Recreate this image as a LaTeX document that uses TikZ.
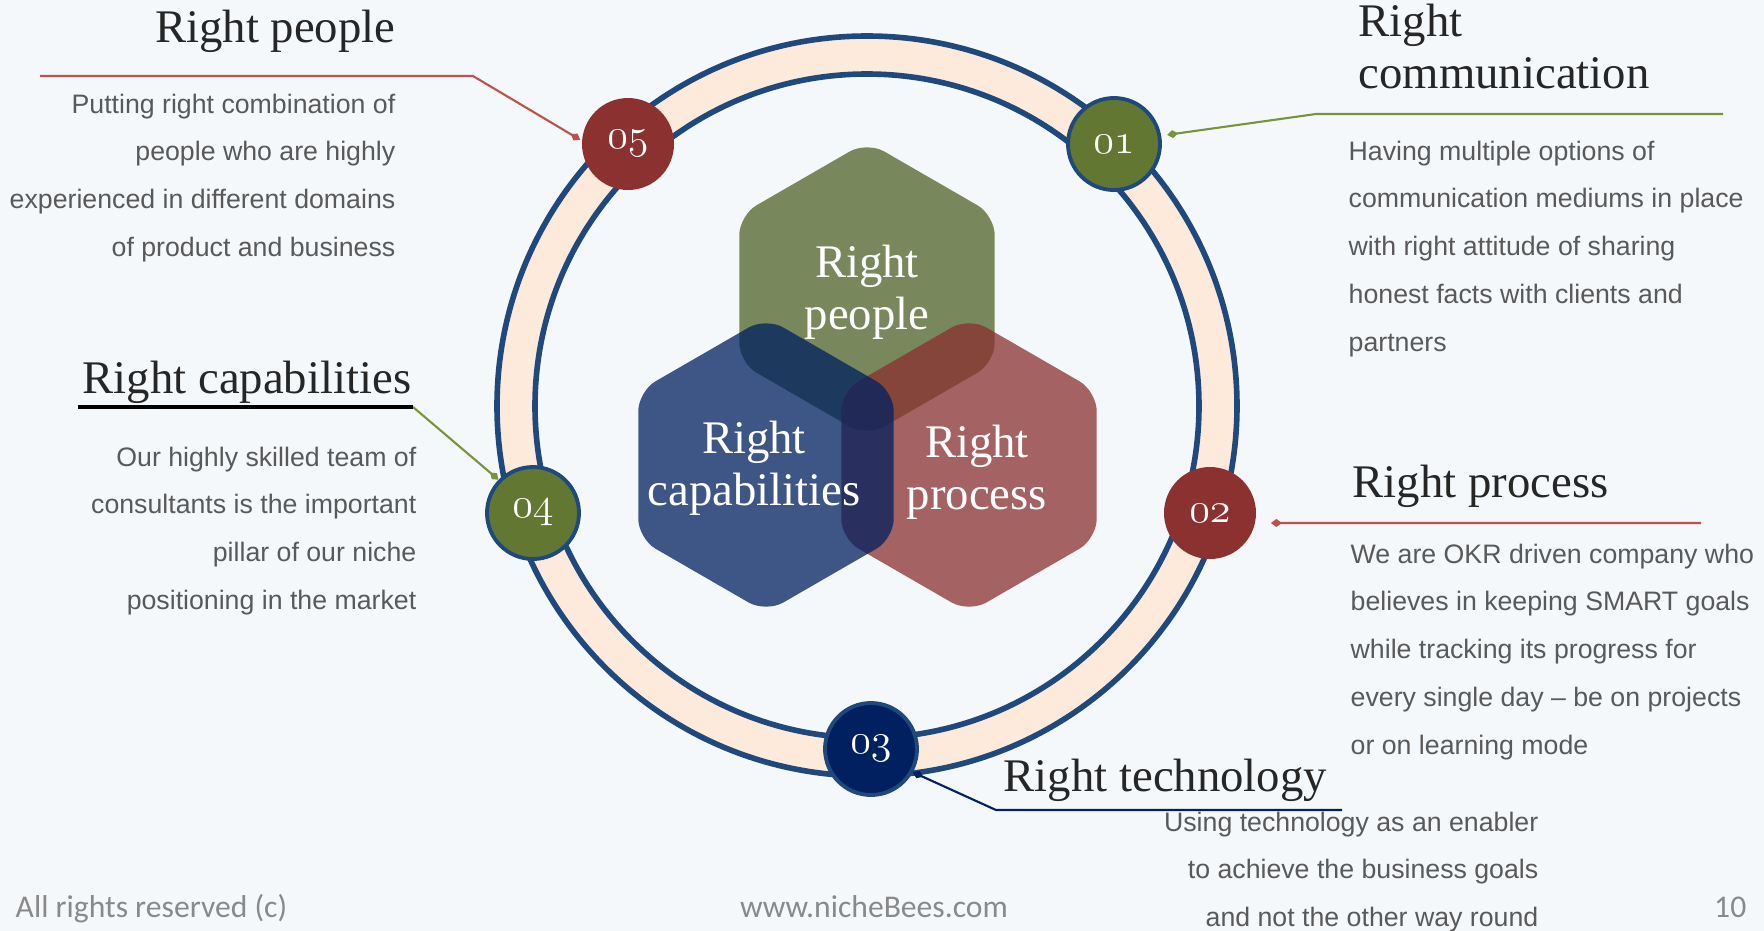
\documentclass[tikz,border=0pt]{standalone}
\usepackage{fontspec}
\newfontfamily\headfont{Liberation Serif}
\newfontfamily\bodyfont{Liberation Sans}
\newfontfamily\footfont{Carlito}
\usetikzlibrary{shapes.geometric,arrows.meta}

\definecolor{slidebg}{RGB}{245,248,251}
\definecolor{ringfill}{RGB}{253,234,218}
\definecolor{ringblue}{RGB}{31,73,125}
\definecolor{hexgreen}{RGB}{79,98,40}
\definecolor{hexred}{RGB}{138,48,47}
\definecolor{hexnavy}{RGB}{0,32,96}
\definecolor{badgegreen}{RGB}{98,120,50}
\definecolor{badgered}{RGB}{139,50,48}
\definecolor{badgenavy}{RGB}{0,32,96}
\definecolor{linered}{RGB}{192,80,77}
\definecolor{lineolive}{RGB}{119,147,60}
\definecolor{headgray}{RGB}{38,38,38}
\definecolor{bodygray}{RGB}{89,89,89}
\definecolor{footgray}{RGB}{137,137,137}

\newcommand\oldnum[1]{{\usefont{OML}{cmm}{m}{it}#1}}

\tikzset{
  badge/.style={circle, minimum size=9.2mm, inner sep=0pt, line width=1.1pt, text=white, font=\fontsize{12}{12}\selectfont},
  hexa/.style={regular polygon, regular polygon sides=6, shape border rotate=30, minimum size=29.5mm, inner sep=0pt, rounded corners=2mm, fill opacity=0.75},
  hexlabel/.style={text=white, align=center, inner sep=0pt, font=\headfont\fontsize{13.3}{14.8}\selectfont},
  headtxt/.style={text=headgray, inner sep=0pt, font=\headfont\fontsize{13.3}{14.8}\selectfont},
  bodytxt/.style={text=bodygray, inner sep=0pt, font=\bodyfont\fontsize{7.6}{13.6}\selectfont},
  foottxt/.style={text=footgray, inner sep=0pt, font=\footfont\fontsize{9}{10}\selectfont},
  conn/.style={line width=0.6pt, {Diamond[length=1.1mm,width=0.8mm]}-},
}

\begin{document}
\begin{tikzpicture}[x=0.1mm,y=-0.1mm]
\useasboundingbox[fill=slidebg] (0,0) rectangle (1764,931);

% ring
\coordinate (rc) at (867,406);
\fill[ringfill,even odd rule] (rc) circle[radius=37mm] (rc) circle[radius=33.2mm];
\draw[ringblue,line width=1.6pt] (rc) circle[radius=37mm] (rc) circle[radius=33.2mm];

% hexagons
\node[hexa, fill=hexgreen] (hpeople) at (867,289) {};
\node[hexa, fill=hexred] (hprocess) at (969,465) {};
\node[hexa, fill=hexnavy] (hcap) at (766,465) {};
\node[hexlabel] (lpeople) at (867,292) {Right\\people};
\node[hexlabel] (lcap) at (754,468) {Right\\capabilities};
\node[hexlabel] (lprocess) at (977,472) {Right\\process};

% badges
\node[badge, fill=badgered] (b5) at (628,144) {\oldnum{05}};
\node[badge, fill=badgegreen, draw=ringblue] (b1) at (1114,144) {\oldnum{01}};
\node[badge, fill=badgered] (b2) at (1210,513) {\oldnum{02}};
\node[badge, fill=badgenavy, draw=ringblue] (b3) at (871,749) {\oldnum{03}};
\node[badge, fill=badgegreen, draw=ringblue] (b4) at (533,513) {\oldnum{04}};

% connectors
\coordinate (k5a) at (473,76);
\coordinate (k5b) at (40,76);
\coordinate (k1a) at (1316,114);
\coordinate (k1b) at (1723,114);
\coordinate (k4a) at (413,407);
\coordinate (k4b) at (78,407);
\coordinate (k2a) at (1701,523);
\coordinate (k3a) at (996,810);
\coordinate (k3b) at (1342,810);
\draw[conn, linered] (b5.175) -- (k5a) -- (k5b);
\draw[conn, lineolive, shorten <=0.6mm] (b1.10) -- (k1a) -- (k1b);
\draw[conn, lineolive] (b4.136) -- (k4a);
\draw[black, line width=0.9pt] (k4a) -- (k4b);
\draw[conn, linered, shorten <=1.4mm] (b2.-12) -- (k2a);
\draw[conn, badgenavy] (b3.-29) -- (k3a) -- (k3b);

% titles
\node[headtxt, anchor=base east] (tpeople) at (396,42) {Right people};
\node[headtxt, align=left, anchor=north west] (tcomm) at (1358,3) {Right\\communication};
\node[headtxt, anchor=base west] (tcap) at (82,393) {Right capabilities};
\node[headtxt, anchor=base west] (tprocess) at (1352,497) {Right process};
\node[headtxt, anchor=base west] (ttech) at (1003,791) {Right technology};

% descriptions
\node[bodytxt, align=right, anchor=north east] (dpeople) at (396,93) {Putting right combination of\\people who are highly\\experienced in different domains\\of product and business};
\node[bodytxt, align=left, anchor=north west] (dcomm) at (1348,140) {Having multiple options of\\communication mediums in place\\with right attitude of sharing\\honest facts with clients and\\partners};
\node[bodytxt, align=right, anchor=north east] (dcap) at (417,446) {Our highly skilled team of\\consultants is the important\\pillar of our niche\\positioning in the market};
\node[bodytxt, align=left, anchor=north west] (dprocess) at (1350,543) {We are OKR driven company who\\believes in keeping SMART goals\\while tracking its progress for\\every single day – be on projects\\or on learning mode};
\node[bodytxt, align=right, anchor=north east] (dtech) at (1539,811) {Using technology as an enabler\\to achieve the business goals\\and not the other way round};

% footer
\node[foottxt, anchor=base west] (fleft) at (15,917) {All rights reserved (c)};
\node[foottxt, anchor=base] (fmid) at (874,917) {www.nicheBees.com};
\node[foottxt, anchor=base east] (fpage) at (1747,917) {10};
\end{tikzpicture}
\end{document}
